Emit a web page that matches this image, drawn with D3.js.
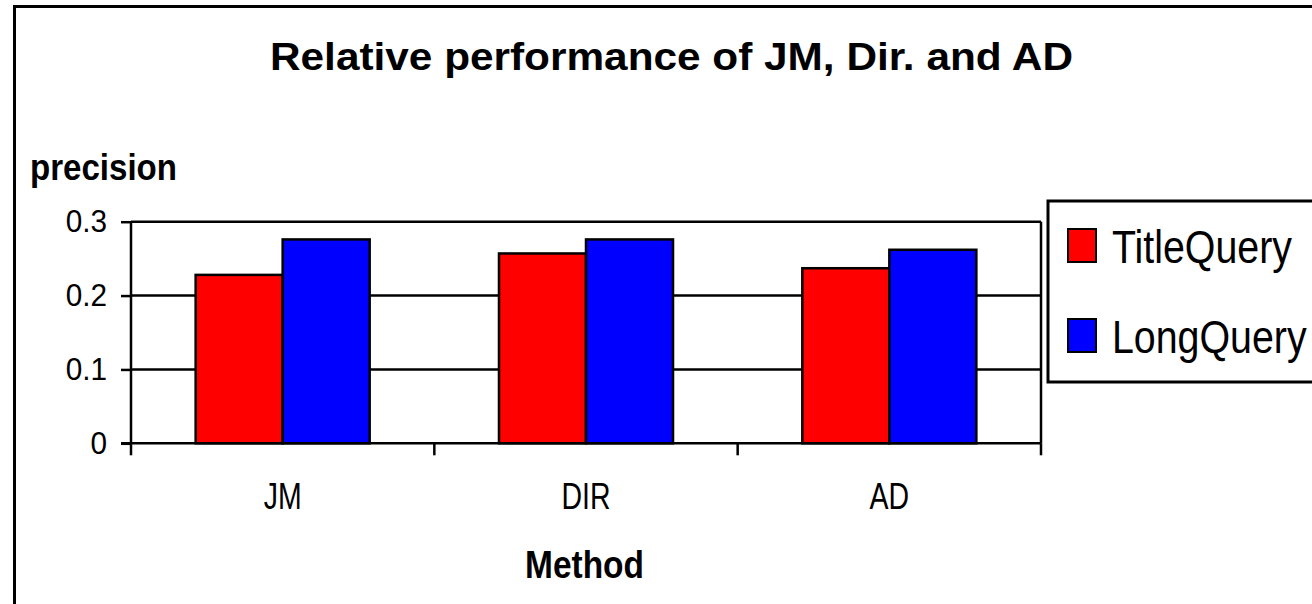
<!DOCTYPE html>
<html lang="en">
<head>
    <meta charset="UTF-8">
    <title>Relative performance of JM, Dir. and AD</title>
    <script src="https://d3js.org/d3.v7.min.js"></script>
    <style>
        body { margin: 0; background: #fff; }
        text { font-family: "Liberation Sans", Arial, sans-serif; fill: #000; }
    </style>
</head>
<body>
<script>
    // chart data
    let methods = ["JM", "DIR", "AD"];
    let seriesNames = ["TitleQuery", "LongQuery"];
    let titleQuery = [0.228, 0.257, 0.237];
    let longQuery = [0.276, 0.276, 0.262];
    let yTicks = [0, 0.1, 0.2, 0.3];
    let colors = ["#ff0000", "#0000ff"];

    let W = 1312, H = 604;
    let svg = d3.select("body").append("svg")
        .attr("width", W)
        .attr("height", H);

    // squeeze text horizontally to the width
    function fit(sel, w) {
        sel.attr("textLength", w).attr("lengthAdjust", "spacingAndGlyphs");
    }
    function squeeze(sel, k) {
        sel.each(function () {
            let w = this.getComputedTextLength();
            d3.select(this).attr("textLength", w * k).attr("lengthAdjust", "spacingAndGlyphs");
        });
    }

    // outer frame, runs off the right and bottom
    svg.append("rect")
        .attr("x", 14.5).attr("y", 6.5)
        .attr("width", W).attr("height", H)
        .attr("fill", "none").attr("stroke", "#000").attr("stroke-width", 3);

    let plot = { left: 131, right: 1041, top: 221.7, bottom: 443.3 };

    let x0 = d3.scaleBand().domain(methods).range([plot.left, plot.right]);
    let x1 = d3.scaleBand().domain(seriesNames)
        .range([0, x0.bandwidth()]).paddingInner(0).paddingOuter(0.743);
    let y = d3.scaleLinear().domain([0, 0.3]).range([plot.bottom, plot.top]);

    // gridlines
    svg.append("g").selectAll("line")
        .data(yTicks.filter(d => d > 0))
        .enter().append("line")
        .attr("x1", plot.left).attr("x2", plot.right)
        .attr("y1", d => y(d)).attr("y2", d => y(d))
        .attr("stroke", "#000").attr("stroke-width", 2.5);

    // right edge of plot area
    svg.append("line")
        .attr("x1", plot.right).attr("x2", plot.right)
        .attr("y1", plot.top).attr("y2", plot.bottom)
        .attr("stroke", "#000").attr("stroke-width", 2.5);

    // bars
    let rows = methods.map((m, i) => ({ method: m, values: [titleQuery[i], longQuery[i]] }));
    let groups = svg.append("g").selectAll("g")
        .data(rows)
        .enter().append("g")
        .attr("transform", d => `translate(${x0(d.method)},0)`);

    groups.selectAll("rect")
        .data(d => d.values.map((v, j) => ({ name: seriesNames[j], value: v, color: colors[j] })))
        .enter().append("rect")
        .attr("x", d => x1(d.name))
        .attr("y", d => y(d.value))
        .attr("width", x1.bandwidth())
        .attr("height", d => y(0) - y(d.value))
        .attr("fill", d => d.color)
        .attr("stroke", "#000")
        .attr("stroke-width", 2.5);

    // y axis
    let yAxis = svg.append("g")
        .attr("transform", `translate(${plot.left},0)`)
        .call(d3.axisLeft(y).tickValues(yTicks).tickSize(10).tickPadding(14)
            .tickFormat(d => d === 0 ? "0" : d3.format(".1f")(d)));
    yAxis.select(".domain").attr("stroke", "#000").attr("stroke-width", 2.5)
        .attr("d", `M0,${plot.top}V${plot.bottom}`);
    yAxis.selectAll(".tick line").attr("stroke", "#000").attr("stroke-width", 2.5);
    yAxis.selectAll(".tick text")
        .attr("font-size", 32)
        .attr("font-family", "Liberation Sans, Arial, sans-serif")
        .attr("fill", "#000")
        .call(squeeze, 0.93);

    // x axis: ticks sit on category boundaries
    let xAxisG = svg.append("g").attr("transform", `translate(0,${plot.bottom})`);
    xAxisG.append("line")
        .attr("x1", plot.left - 10).attr("x2", plot.right)
        .attr("stroke", "#000").attr("stroke-width", 2.5);
    let bounds = methods.map(m => x0(m)).concat([plot.right]);
    xAxisG.selectAll(".xt")
        .data(bounds)
        .enter().append("line")
        .attr("class", "xt")
        .attr("x1", d => d).attr("x2", d => d)
        .attr("y1", 0).attr("y2", 12)
        .attr("stroke", "#000").attr("stroke-width", 2.5);
    xAxisG.selectAll(".xl")
        .data(methods)
        .enter().append("text")
        .attr("class", "xl")
        .attr("x", d => x0(d) + x0.bandwidth() / 2)
        .attr("y", 66)
        .attr("text-anchor", "middle")
        .attr("font-size", 37)
        .text(d => d)
        .call(squeeze, 0.77);

    // titles
    svg.append("text")
        .attr("x", 270).attr("y", 70)
        .attr("font-size", 38).attr("font-weight", "bold")
        .text("Relative performance of JM, Dir. and AD")
        .call(fit, 803);

    svg.append("text")
        .attr("x", 30).attr("y", 180)
        .attr("font-size", 37).attr("font-weight", "bold")
        .text("precision")
        .call(fit, 147);

    svg.append("text")
        .attr("x", 525).attr("y", 578)
        .attr("font-size", 38).attr("font-weight", "bold")
        .text("Method")
        .call(fit, 119);

    // legend
    let legend = svg.append("g");
    legend.append("rect")
        .attr("x", 1048).attr("y", 201)
        .attr("width", 400).attr("height", 181)
        .attr("fill", "#fff").attr("stroke", "#000").attr("stroke-width", 3);

    let items = legend.selectAll(".li")
        .data(seriesNames)
        .enter().append("g")
        .attr("class", "li")
        .attr("transform", (d, i) => `translate(1068,${229 + i * 90})`);
    items.append("rect")
        .attr("width", 28).attr("height", 33)
        .attr("fill", (d, i) => colors[i])
        .attr("stroke", "#000").attr("stroke-width", 2);
    items.append("text")
        .attr("x", 44).attr("y", 34)
        .attr("font-size", 46)
        .text(d => d)
        .call(squeeze, 0.855);
</script>
</body>
</html>
